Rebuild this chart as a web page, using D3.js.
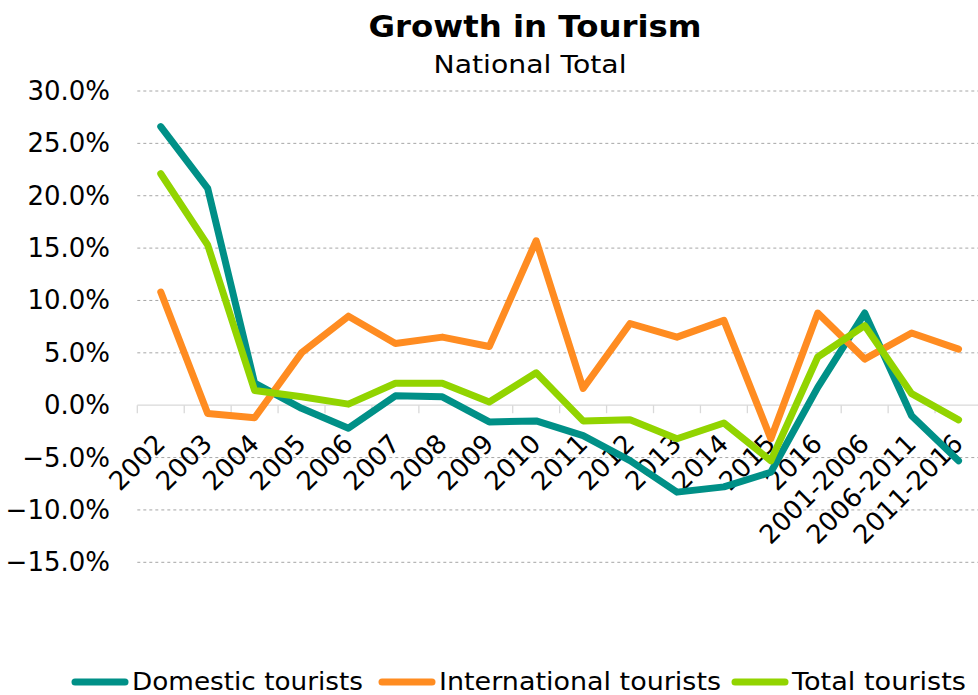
<!DOCTYPE html>
<html><head><meta charset="utf-8">
<script src="https://cdn.jsdelivr.net/npm/d3@7"></script>
<style>body{margin:0;background:#fff}svg{display:block}</style>
</head><body>
<script>
const categories = ["2002","2003","2004","2005","2006","2007","2008","2009","2010","2011","2012","2013","2014","2015","2016","2001-2006","2006-2011","2011-2016"];
const domestic = [26.6,20.7,2.1,-0.3,-2.2,0.9,0.8,-1.6,-1.5,-2.9,-5.3,-8.3,-7.8,-6.4,1.7,8.8,-1.0,-5.3];
const international = [10.8,-0.8,-1.2,5.0,8.5,5.9,6.5,5.6,15.7,1.6,7.8,6.5,8.1,-3.2,8.8,4.4,6.9,5.35];
const total = [22.1,15.3,1.4,0.8,0.1,2.1,2.1,0.3,3.1,-1.5,-1.4,-3.2,-1.7,-5.3,4.6,7.6,1.1,-1.4];
const yTicks = [30,25,20,15,10,5,0,-5,-10,-15];
const seriesNames = ["Domestic tourists","International tourists","Total tourists"];
const seriesColors = ["#009087","#FF8C21","#92D400"];

const W = 978, H = 695;
const svg = d3.select("body").append("svg").attr("width", W).attr("height", H);
const font = "'DejaVu Sans', Verdana, sans-serif";

const x = d3.scaleBand().domain(categories).range([137.3, 982]);
const y = d3.scaleLinear().domain([-15, 30]).range([562.3, 91]);

// gridlines
svg.append("g").selectAll("line").data(yTicks.filter(d => d !== 0)).join("line")
  .attr("x1", 137.3).attr("x2", W).attr("y1", d => y(d)).attr("y2", d => y(d))
  .attr("stroke", "#a6a6a6").attr("stroke-width", 1).attr("stroke-dasharray", "3,3");

// zero axis line + ticks
svg.append("line").attr("x1", 137.3).attr("x2", W).attr("y1", y(0)).attr("y2", y(0))
  .attr("stroke", "#d9d9d9").attr("stroke-width", 1.3);
const bounds = categories.map(c => x(c)).concat([x.range()[1]]);
svg.append("g").selectAll("line").data(bounds).join("line")
  .attr("x1", d => d).attr("x2", d => d).attr("y1", y(0)).attr("y2", y(0) + 8)
  .attr("stroke", "#d9d9d9").attr("stroke-width", 1.3);

// y labels
svg.append("g").selectAll("text").data(yTicks).join("text")
  .attr("x", 110).attr("y", d => y(d) + 9)
  .attr("text-anchor", "end").attr("font-family", font).attr("font-size", 26)
  .attr("fill", "#000").text(d => d3.format(".1f")(d) + "%");

// x labels
svg.append("g").selectAll("text").data(categories).join("text")
  .attr("text-anchor", "end").attr("font-family", font).attr("font-size", 26).attr("fill", "#000")
  .attr("transform", d => `translate(${x(d) + x.bandwidth() / 2 + 6},${y(0) + 40}) rotate(-45)`)
  .text(d => d);

// lines
const line = d3.line().x((d, i) => x(categories[i]) + x.bandwidth() / 2).y(d => y(d));
[domestic, international, total].forEach((s, k) => {
  svg.append("path").datum(s).attr("d", line).attr("fill", "none")
    .attr("stroke", seriesColors[k]).attr("stroke-width", 7)
    .attr("stroke-linejoin", "round").attr("stroke-linecap", "round");
});

// title
svg.append("text").attr("x", 535).attr("y", 37).attr("text-anchor", "middle")
  .attr("font-family", font).attr("font-weight", "bold").attr("font-size", 30)
  .attr("textLength", 333).attr("lengthAdjust", "spacingAndGlyphs").text("Growth in Tourism");
svg.append("text").attr("x", 530).attr("y", 73).attr("text-anchor", "middle")
  .attr("font-family", font).attr("font-size", 25.5)
  .attr("textLength", 193).attr("lengthAdjust", "spacingAndGlyphs").text("National Total");

// legend
const legX = [72, 379, 732];
const legW = [231, 282, 174];
const lg = svg.append("g");
seriesNames.forEach((n, k) => {
  lg.append("line").attr("x1", legX[k] + 3).attr("x2", legX[k] + 53)
    .attr("y1", 682).attr("y2", 682).attr("stroke", seriesColors[k])
    .attr("stroke-width", 7).attr("stroke-linecap", "round");
  lg.append("text").attr("x", legX[k] + 60).attr("y", 690)
    .attr("font-family", font).attr("font-size", 25).attr("fill", "#000")
    .attr("textLength", legW[k]).attr("lengthAdjust", "spacingAndGlyphs").text(n);
});
</script>
</body></html>
